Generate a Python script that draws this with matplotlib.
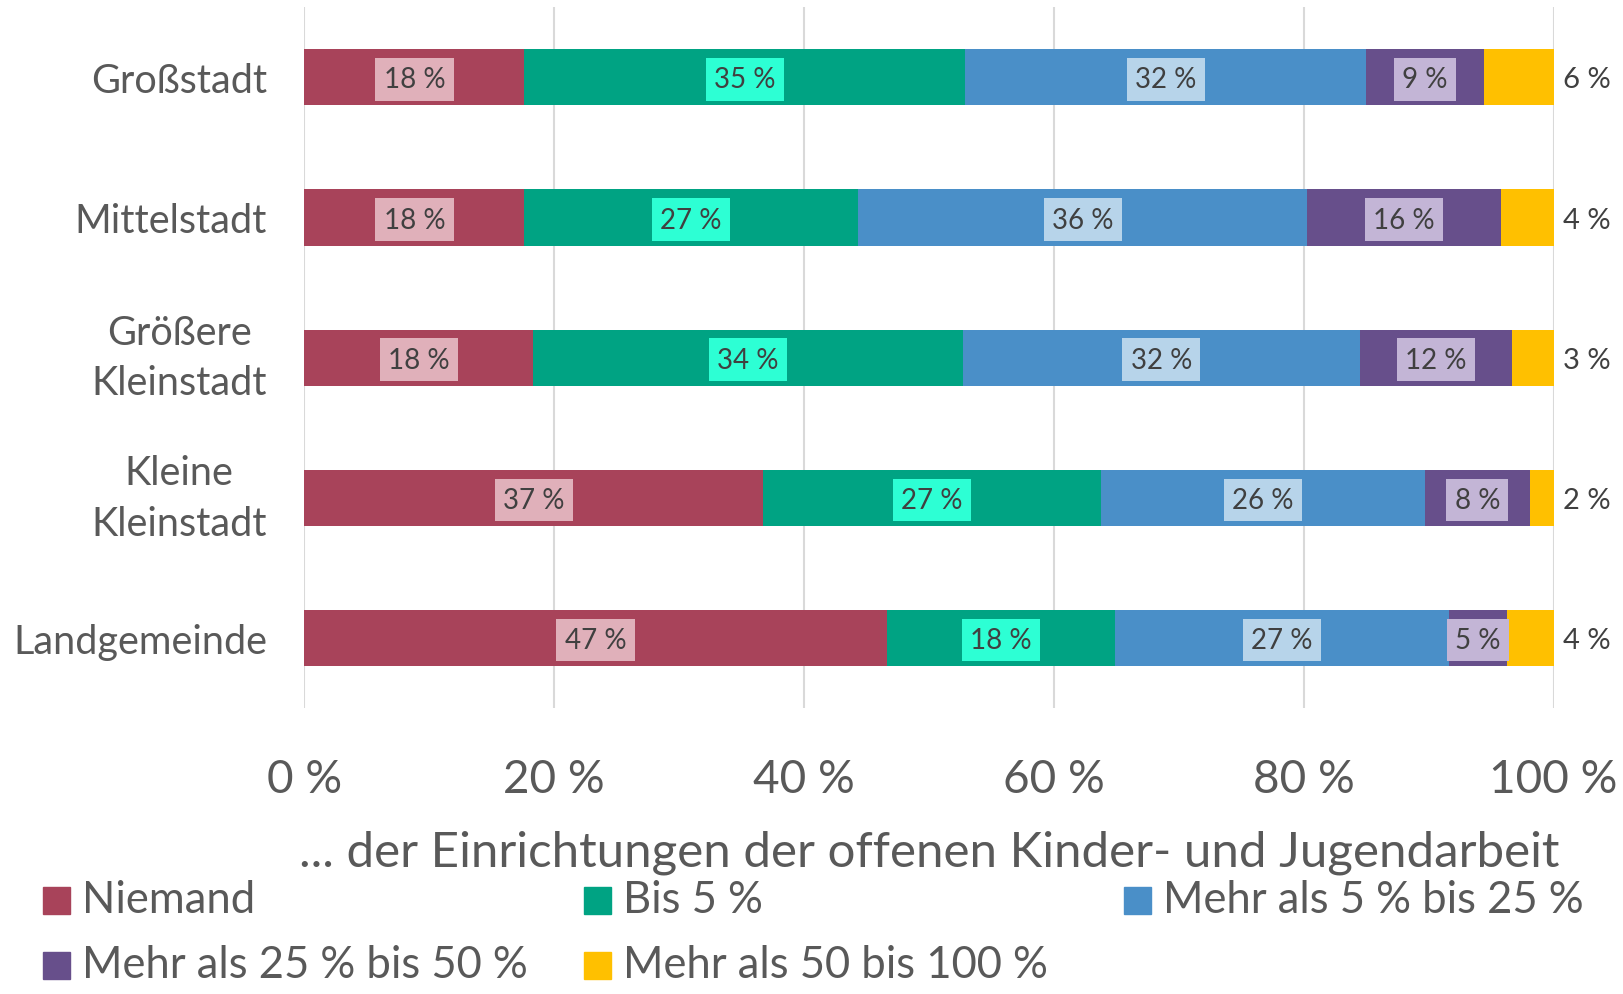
import numpy as np
import matplotlib.pyplot as plt
from matplotlib.patches import Rectangle

plt.rcParams["font.family"] = ["Lato", "DejaVu Sans"]

categories = ["Großstadt", "Mittelstadt", "Größere\nKleinstadt", "Kleine\nKleinstadt", "Landgemeinde"]
series_names = ["Niemand", "Bis 5 %", "Mehr als 5 % bis 25 %", "Mehr als 25 % bis 50 %", "Mehr als 50 bis 100 %"]

niemand = [17.6, 17.6, 18.3, 36.7, 46.6]
bis5 = [35.3, 26.7, 34.4, 27.1, 18.3]
bis25 = [32.1, 36.0, 31.8, 25.9, 26.7]
bis50 = [9.4, 15.5, 12.2, 8.4, 4.7]
bis100 = [5.6, 4.2, 3.3, 1.9, 3.7]

colors = ["#A8435A", "#00A383", "#4A8FC8", "#674F8B", "#FFC000"]
box_colors = ["#E0B0BA", "#2DFFD4", "#B7D4EA", "#C3B5D6", None]

TXT = "#595959"
LBL = "#404040"

fig = plt.figure(figsize=(16.24, 9.95), dpi=100)
ax = fig.add_axes([0.1875, 0.2874, 0.7691, 0.7043])

data = [niemand, bis5, bis25, bis50, bis100]
y = np.arange(len(categories))
left = np.zeros(len(categories))
for i, vals in enumerate(data):
    vals = np.array(vals)
    ax.barh(y, vals, left=left, height=0.4, color=colors[i], zorder=3)
    for j, v in enumerate(vals):
        txt = f"{round(v):.0f} %"
        if box_colors[i] is not None:
            ax.text(left[j] + v / 2, y[j] + 0.015, txt, ha="center", va="center",
                    fontsize=20, color=LBL, zorder=4,
                    bbox=dict(boxstyle="square,pad=0.3", fc=box_colors[i], ec="none"))
        else:
            ax.text(102.7, y[j] + 0.015, txt, ha="center", va="center",
                    fontsize=21, color=LBL, zorder=4)
    left += vals

ax.set_xlim(0, 100)
ax.set_ylim(len(categories) - 0.5, -0.5)
ax.set_yticks(y)
ax.set_yticklabels(categories, fontsize=28.5, color=TXT, multialignment="center",
                   linespacing=1.45)
for lab in ax.get_yticklabels():
    if "\n" in lab.get_text():
        lab.set_va("center")
ax.set_xticks([0, 20, 40, 60, 80, 100])
ax.set_xticklabels(["0 %", "20 %", "40 %", "60 %", "80 %", "100 %"], fontsize=33, color=TXT)
ax.tick_params(axis="both", length=0)
ax.tick_params(axis="x", pad=36)
ax.tick_params(axis="y", pad=27)
for s in ax.spines.values():
    s.set_visible(False)
ax.grid(axis="x", color="#D9D9D9", linewidth=1.5, zorder=0)
ax.set_axisbelow(True)
ax.set_xlabel("... der Einrichtungen der offenen Kinder- und Jugendarbeit",
              fontsize=35.5, color=TXT, labelpad=21)

# legend, Excel style: row-major, fixed columns
W, H = 1624, 995
col_x = [43.5, 584, 1124]
row_y = [901, 966]
for k, name in enumerate(series_names):
    r, c = divmod(k, 3)
    x0, yc = col_x[c], row_y[r]
    fig.add_artist(Rectangle((x0 / W, 1 - (yc + 13.5) / H), 27 / W, 27 / H,
                             transform=fig.transFigure, color=colors[k]))
    fig.text((x0 + 39) / W, 1 - yc / H, name, fontsize=31.4, color=TXT,
             ha="left", va="center")

fig.savefig("out.png", dpi=100)
